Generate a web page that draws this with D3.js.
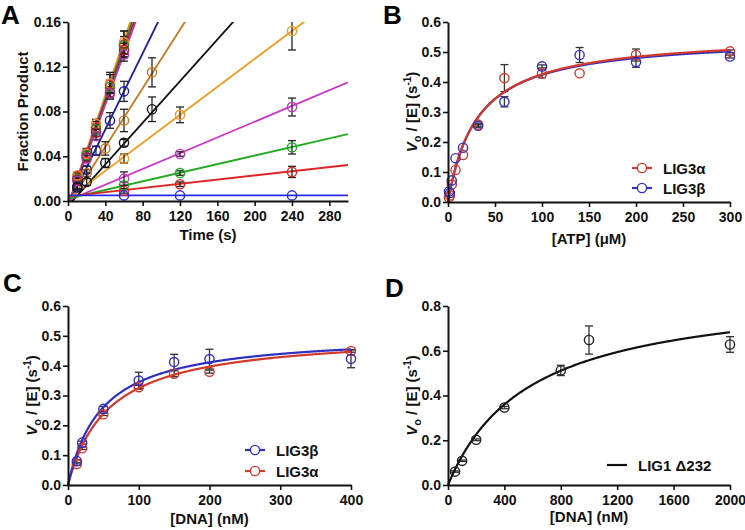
<!DOCTYPE html>
<html>
<head>
<meta charset="utf-8">
<script src="https://cdn.jsdelivr.net/npm/d3@7"></script>
<style>
  body { margin: 0; background: #fff; }
  text { font-family: Arial, "Liberation Sans", sans-serif; font-weight: bold; }
</style>
</head>
<body>
<svg id="chart"></svg>
<script>
// ---- panel A: time courses ----
const aTimes = [
  [10, 20, 30, 45, 60], [10, 20, 30, 45, 60], [10, 20, 30, 45, 60], [10, 20, 30, 45, 60], [10, 20, 30, 45, 60],
  [10, 20, 30, 45, 60], [20, 40, 60, 90], [10, 20, 40, 60, 90],
  [60, 120, 240], [60, 120, 240], [60, 120, 240], [60, 120, 240], [60, 120, 240]
];
const aValues = [
  [0.022, 0.043, 0.066, 0.104, 0.140],
  [0.023, 0.042, 0.069, 0.105, 0.142],
  [0.020, 0.041, 0.064, 0.102, 0.139],
  [0.019, 0.039, 0.061, 0.097, 0.135],
  [0.018, 0.038, 0.058, 0.096, 0.131],
  [0.013, 0.028, 0.045, 0.072, 0.098],
  [0.025, 0.047, 0.072, 0.115],
  [0.012, 0.017, 0.034, 0.052, 0.082],
  [0.038, 0.077, 0.152],
  [0.020, 0.042, 0.084],
  [0.014, 0.025, 0.048],
  [0.009, 0.015, 0.026],
  [0.005, 0.005, 0.005]
];
const aErrors = [
  [0.003, 0.004, 0.005, 0.011, 0.012],
  [0.003, 0.004, 0.004, 0.008, 0.010],
  [0.002, 0.003, 0.004, 0.006, 0.008],
  [0.002, 0.003, 0.003, 0.005, 0.006],
  [0.002, 0.003, 0.003, 0.005, 0.006],
  [0.002, 0.003, 0.004, 0.007, 0.009],
  [0.003, 0.006, 0.010, 0.013],
  [0.002, 0.003, 0.004, 0.003, 0.011],
  [0.004, 0.007, 0.017],
  [0.006, 0.002, 0.008],
  [0.003, 0.002, 0.006],
  [0.002, 0.002, 0.005],
  [0, 0, 0]
];
const aSlopes = [0.00242, 0.00246, 0.0024, 0.00232, 0.00228, 0.0017, 0.00131, 0.00093, 0.000625, 0.000352, 0.000192, 0.0000933, 0];
const aIntercepts = [-0.004, -0.004, -0.005, -0.004, -0.005, -0.004, -0.004, -0.0045, 0.002, 0.0005, 0.0022, 0.0042, 0.005];
const aColors = ["#e8302a", "#f08a24", "#2e8b2e", "#a02030", "#b03ab0", "#1c1c9c", "#c8781e", "#111111",
                 "#f39a1f", "#c832c8", "#22aa22", "#e02424", "#2a2ae6"];

// ---- panel B: ATP titration ----
const bX = [1, 2, 4, 8, 16, 32, 60, 100, 140, 200, 300];
const bAlpha = [0.015, 0.022, 0.058, 0.107, 0.157, 0.258, 0.413, 0.428, 0.429, 0.490, 0.502];
const bAlphaErr = [0, 0, 0, 0, 0, 0.005, 0.045, 0.014, 0, 0.02, 0.005];
const bBeta = [0.035, 0.030, 0.072, 0.146, 0.181, 0.254, 0.334, 0.452, 0.490, 0.467, 0.485];
const bBetaErr = [0, 0, 0, 0, 0, 0.005, 0.017, 0.005, 0.025, 0.018, 0.005];
const bFitAlpha = [0.560, 31.5];   // Vmax, Km
const bFitBeta = [0.553, 30.5];

// ---- panel C: DNA titration ----
const cX = [12.5, 20, 50, 100, 150, 200, 400];
const cBeta = [0.080, 0.142, 0.255, 0.350, 0.412, 0.422, 0.423];
const cBetaErr = [0.005, 0.005, 0.008, 0.028, 0.026, 0.033, 0.030];
const cAlpha = [0.070, 0.123, 0.237, 0.328, 0.373, 0.380, 0.449];
const cAlphaErr = [0.004, 0.004, 0.004, 0.006, 0.010, 0.005, 0.004];
const cFitBeta = [0.509, 47.6];
const cFitAlpha = [0.510, 57];

// ---- panel D: LIG1 ----
const dX = [50, 100, 200, 400, 800, 1000, 2000];
const dY = [0.060, 0.108, 0.202, 0.346, 0.512, 0.648, 0.628];
const dErr = [0.003, 0.003, 0.004, 0.005, 0.023, 0.063, 0.035];
const dFit = [0.88, 578];

const RED = "#d33a2c", BLUE = "#2f2fc4";
const width = 745, height = 530;
const svg = d3.select("#chart").attr("width", width).attr("height", height);

function axes(x, y, xTicks, yTicks, xFmt, yFmt) {
  const gx = svg.append("g")
    .attr("transform", `translate(0,${y.range()[0]})`)
    .call(d3.axisBottom(x).tickValues(xTicks).tickSize(5).tickSizeOuter(0).tickPadding(5).tickFormat(xFmt));
  const gy = svg.append("g")
    .attr("transform", `translate(${x.range()[0]},0)`)
    .call(d3.axisLeft(y).tickValues(yTicks).tickSize(5).tickSizeOuter(0).tickPadding(2).tickFormat(yFmt));
  [gx, gy].forEach(g => {
    g.attr("font-family", null).attr("font-size", 14);
    g.select(".domain").attr("stroke-width", 2).attr("stroke", "#111");
    g.selectAll(".tick line").attr("stroke-width", 1.6).attr("stroke", "#111");
    g.selectAll(".tick text").attr("fill", "#111");
  });
}

function yLabel(x, y, cx) {
  const t = svg.append("text")
    .attr("transform", `translate(${cx},${(y.range()[0] + y.range()[1]) / 2}) rotate(-90)`)
    .attr("text-anchor", "middle").attr("font-size", 15).attr("fill", "#111");
  t.append("tspan").attr("font-style", "italic").text("V");
  t.append("tspan").attr("font-size", 11).attr("dy", 4).text("o");
  t.append("tspan").attr("dy", -4).text(" / [E] (s");
  t.append("tspan").attr("font-size", 10).attr("dy", -6).text("-1");
  t.append("tspan").attr("dy", 6).text(")");
}

function xLabel(x, yPos, label) {
  svg.append("text")
    .attr("x", (x.range()[0] + x.range()[1]) / 2).attr("y", yPos)
    .attr("text-anchor", "middle").attr("font-size", 15).attr("fill", "#111")
    .text(label);
}

function letter(px, py, s) {
  svg.append("text").attr("x", px).attr("y", py).attr("font-size", 26).attr("fill", "#000").text(s);
}

function errorBars(x, y, xs, ys, es, color) {
  const g = svg.append("g").attr("stroke", color).attr("stroke-width", 1.3);
  xs.forEach((xv, i) => {
    if (!es[i]) return;
    const cx = x(xv), y0 = y(ys[i] - es[i]), y1 = y(Math.min(ys[i] + es[i], y.domain()[1]));
    g.append("line").attr("x1", cx).attr("x2", cx).attr("y1", y0).attr("y2", y1);
    g.append("line").attr("x1", cx - 4).attr("x2", cx + 4).attr("y1", y0).attr("y2", y0);
    if (ys[i] + es[i] <= y.domain()[1])
      g.append("line").attr("x1", cx - 4).attr("x2", cx + 4).attr("y1", y1).attr("y2", y1);
  });
}

function circles(x, y, xs, ys, color) {
  svg.append("g").selectAll("circle").data(xs).join("circle")
    .attr("cx", d => x(d)).attr("cy", (d, i) => y(ys[i])).attr("r", 4.6)
    .attr("fill", "none").attr("stroke", color).attr("stroke-width", 1.4);
}

function mmCurve(x, y, fit, color) {
  const xmax = x.domain()[1];
  const pts = d3.range(0, 401).map(i => xmax * i / 400);
  svg.append("path")
    .attr("d", d3.line().x(d => x(d)).y(d => y(fit[0] * d / (fit[1] + d)))(pts))
    .attr("fill", "none").attr("stroke", color).attr("stroke-width", 2.2);
}

function legendRow(px, py, color, label, withCircle) {
  svg.append("line").attr("x1", px).attr("x2", px + 20).attr("y1", py).attr("y2", py)
    .attr("stroke", color).attr("stroke-width", 2.2);
  if (withCircle)
    svg.append("circle").attr("cx", px + 10).attr("cy", py).attr("r", 4.6)
      .attr("fill", "#fff").attr("stroke", color).attr("stroke-width", 1.4);
  svg.append("text").attr("x", px + 31).attr("y", py + 5.5).attr("font-size", 15)
    .attr("fill", "#111").text(label);
}

// ================= A =================
const xA = d3.scaleLinear().domain([0, 300]).range([68, 348]);
const yA = d3.scaleLinear().domain([0, 0.16]).range([201, 22]);
svg.append("clipPath").attr("id", "clipA").append("rect")
  .attr("x", 68).attr("y", 22).attr("width", 280).attr("height", 179);
const linesA = svg.append("g").attr("clip-path", "url(#clipA)");
aSlopes.forEach((s, i) => {
  linesA.append("path")
    .attr("d", d3.line().x(d => xA(d)).y(d => yA(aIntercepts[i] + s * d))([0, 300]))
    .attr("stroke", aColors[i]).attr("stroke-width", 1.8).attr("fill", "none");
});
aTimes.forEach((ts, i) => errorBars(xA, yA, ts, aValues[i], aErrors[i], "#222"));
aTimes.forEach((ts, i) => circles(xA, yA, ts, aValues[i], aColors[i]));
axes(xA, yA, d3.range(0, 281, 40), d3.range(0, 0.161, 0.04), d3.format("d"), d3.format(".2f"));
svg.append("text")
  .attr("transform", `translate(28,${(22 + 201) / 2}) rotate(-90)`)
  .attr("text-anchor", "middle").attr("font-size", 15).attr("fill", "#111")
  .text("Fraction Product");
xLabel(xA, 240, "Time (s)");
letter(1, 24, "A");

// ================= B =================
const xB = d3.scaleLinear().domain([0, 300]).range([448, 730]);
const yB = d3.scaleLinear().domain([0, 0.6]).range([202, 22]);
errorBars(xB, yB, bX, bAlpha, bAlphaErr, "#333");
errorBars(xB, yB, bX, bBeta, bBetaErr, "#333");
mmCurve(xB, yB, bFitBeta, BLUE);
mmCurve(xB, yB, bFitAlpha, RED);
circles(xB, yB, bX, bAlpha, RED);
circles(xB, yB, bX, bBeta, BLUE);
axes(xB, yB, d3.range(0, 301, 50), d3.range(0, 0.61, 0.1), d3.format("d"), d3.format(".1f"));
yLabel(xB, yB, 417);
xLabel(xB, 244, "[ATP] (\u03BCM)");
legendRow(632, 168, RED, "LIG3\u03B1", true);
legendRow(632, 188, BLUE, "LIG3\u03B2", true);
letter(383, 24, "B");

// ================= C =================
const xC = d3.scaleLinear().domain([0, 400]).range([68, 351]);
const yC = d3.scaleLinear().domain([0, 0.6]).range([485, 306]);
errorBars(xC, yC, cX, cAlpha, cAlphaErr, "#333");
errorBars(xC, yC, cX, cBeta, cBetaErr, "#333");
mmCurve(xC, yC, cFitAlpha, RED);
mmCurve(xC, yC, cFitBeta, BLUE);
circles(xC, yC, cX, cAlpha, RED);
circles(xC, yC, cX, cBeta, BLUE);
axes(xC, yC, d3.range(0, 401, 100), d3.range(0, 0.61, 0.1), d3.format("d"), d3.format(".1f"));
yLabel(xC, yC, 37);
xLabel(xC, 524, "[DNA] (nM)");
legendRow(245, 450, BLUE, "LIG3\u03B2", true);
legendRow(245, 471, RED, "LIG3\u03B1", true);
letter(3, 292, "C");

// ================= D =================
const xD = d3.scaleLinear().domain([0, 2000]).range([448, 730]);
const yD = d3.scaleLinear().domain([0, 0.8]).range([485, 306]);
errorBars(xD, yD, dX, dY, dErr, "#333");
mmCurve(xD, yD, dFit, "#111");
circles(xD, yD, dX, dY, "#222");
axes(xD, yD, d3.range(0, 2001, 400), d3.range(0, 0.81, 0.2), d3.format("d"), d3.format(".1f"));
yLabel(xD, yD, 417);
xLabel(xD, 522, "[DNA] (nM)");
legendRow(607, 465, "#111", "LIG1 \u0394232", false);
letter(385, 297, "D");
</script>
</body>
</html>
